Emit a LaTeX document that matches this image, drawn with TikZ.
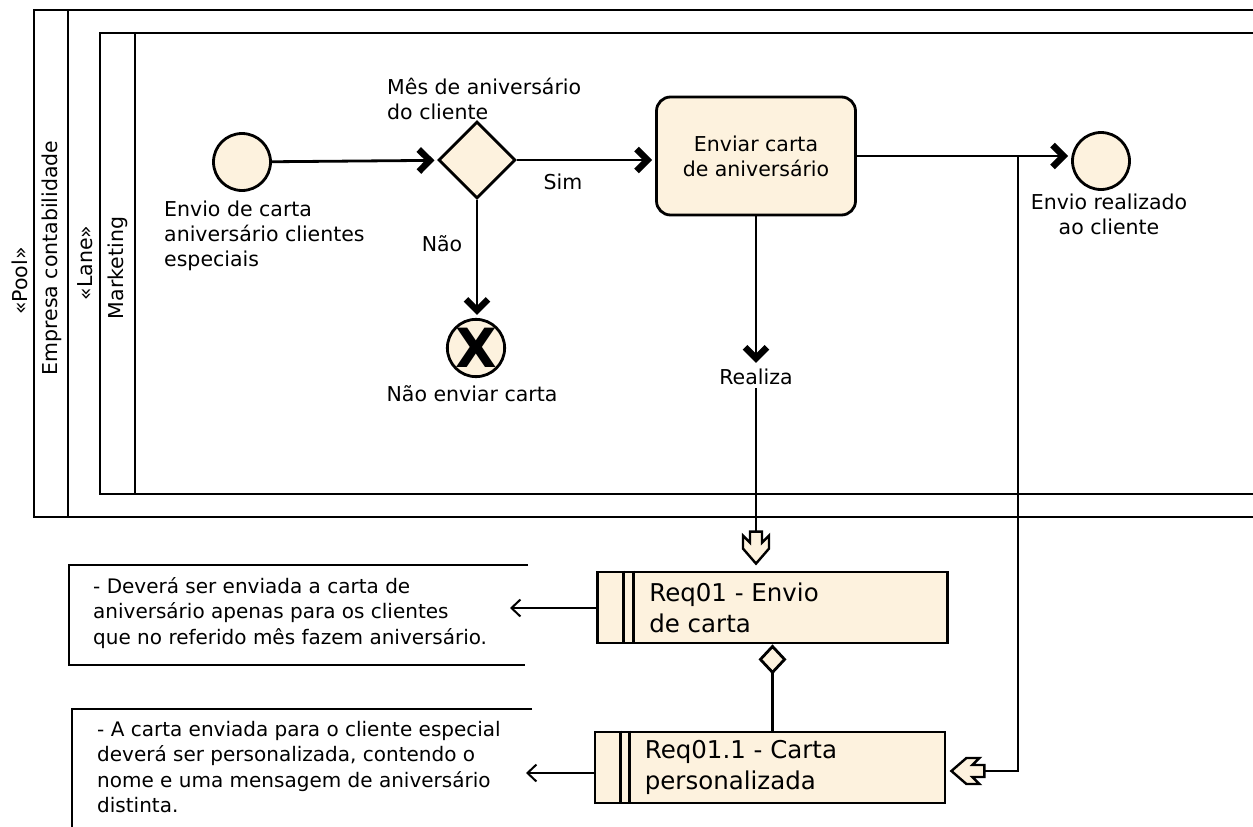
\documentclass[tikz,border=0pt]{standalone}
\usepackage{fontspec}
\setmainfont{DejaVu Sans}
\usetikzlibrary{calc, positioning}
\usetikzlibrary{shapes.geometric, arrows.meta}
\definecolor{bpmnfill}{RGB}{253,242,222}
\tikzset{
  font=\fontsize{20.5}{25}\selectfont,
  % Thin arrowhead to the notes
  thin/.style={-{Straight Barb[length=9pt, width=17pt]},
    line width=2pt},
  % Sequence flow, thick arrowhead
  flow/.style={-{Straight Barb[length=11pt, width=22pt, line width=6.5pt, sharp]},
    line width=2.8pt, shorten >=3pt},
  % Plain line
  plain/.style={line width=2.8pt},
  % Event node
  event/.style={draw, line width=2.8pt, fill=bpmnfill, shape=circle,
    minimum size=57pt, inner sep=0pt},
  % Gateway node
  gate/.style={draw, line width=2.8pt, fill=bpmnfill, shape=diamond,
    minimum size=77pt, inner sep=0pt},
  % Task node
  task/.style={draw, line width=2.8pt, fill=bpmnfill, rounded corners=14pt,
    minimum width=199pt, minimum height=118pt, align=center},
  % Requirement node
  req/.style={draw, line width=2.8pt, fill=bpmnfill, minimum width=350pt,
    minimum height=71pt, inner sep=0pt},
  reqtext/.style={font=\fontsize{24.5}{31}\selectfont, align=left, inner sep=0pt},
  % Labels
  lbl/.style={inner sep=0pt, align=left},
  notetext/.style={font=\fontsize{20}{25.5}\selectfont, inner sep=0pt, align=left},
  % Open arrowheads of the requirement links
  hollow/.style={draw, line width=2.4pt, fill=bpmnfill, line join=miter},
}

\begin{document}
\begin{tikzpicture}[x=1pt, y=-1pt]
  \useasboundingbox (0,0) rectangle (1253,827);

  % pool and lane
  \draw[plain] (1262,10) -- (34,10) -- (34,517) -- (1262,517);
  \draw[plain] (68,10) -- (68,517);
  \draw[plain] (1262,33) -- (100,33) -- (100,494) -- (1262,494);
  \draw[plain] (135,33) -- (135,494);
  \node[rotate=90] (pool) at (20,281) {«Pool»};
  \node[rotate=90] (empresa) at (52,258) {Empresa contabilidade};
  \node[rotate=90] (lane) at (85,263) {«Lane»};
  \node[rotate=90] (mkt) at (118,268) {Marketing};

  % process
  \node[event] (start) at (242,162) {};
  \node[lbl, anchor=north west] (startlbl) at (164,201) {Envio de carta\\aniversário clientes\\especiais};
  \node[gate] (gw) at (477,160) {};
  \node[lbl, anchor=north west] (gwlbl) at (387,78) {Mês de aniversário\\do cliente};
  \node[task] (task) at (756,156) {Enviar carta\\de aniversário};
  \node[event] (fim) at (1101,161) {};
  \node[lbl, align=center, anchor=north] (fimlbl) at (1109,194) {Envio realizado\\ao cliente};
  \node[event, font=\fontsize{54}{54}\selectfont\bfseries] (naoenv) at (476,348) {X};
  \node[lbl, anchor=north] (naolbl) at (472,385) {Não enviar carta};
  \node[lbl] (sim) at (563,182) {Sim};
  \node[lbl] (nao) at (442,244) {Não};
  \node[lbl, inner sep=3pt] (realiza) at (756,377) {Realiza};

  \draw[flow] (start) -- (gw);
  \draw[flow] (gw.east) -- (gw.east -| task.west);
  \draw[flow] (task.east) -- (task.east -| fim.west);
  \draw[flow] (gw.south) -- (gw.south |- naoenv.north);
  \draw[flow] (task.south) -- (realiza.north);

  % requirements
  \node[req] (r1) at (772.5,607.5) {};
  \node[reqtext, right=53pt of r1.west] (r1txt) {Req01 - Envio\\de carta};
  \draw[plain] ([xshift=27pt]r1.north west) -- ([xshift=27pt]r1.south west);
  \draw[plain] ([xshift=37pt]r1.north west) -- ([xshift=37pt]r1.south west);

  \node[req] (r2) at (770,767.5) {};
  \node[reqtext, right=51pt of r2.west] (r2txt) {Req01.1 - Carta\\personalizada};
  \draw[plain] ([xshift=27pt]r2.north west) -- ([xshift=27pt]r2.south west);
  \draw[plain] ([xshift=36pt]r2.north west) -- ([xshift=36pt]r2.south west);

  \draw[plain, {Diamond[open, fill=bpmnfill, length=30pt, width=28pt]}-]
    (r1.south) -- (r1.south |- r2.north);

  % links to the requirements
  \coordinate (tipA) at ($(task.south |- r1.north)+(0,-7)$);
  \draw[plain] (realiza.south) -- (tipA);
  \filldraw[hollow, shift={(tipA)}] (0,0) -- (-13,-15) -- (-13,-28) -- (-6,-21)
    -- (-6,-32) -- (6,-32) -- (6,-21) -- (13,-28) -- (13,-15) -- cycle;

  \coordinate (split) at (1018,0);
  \coordinate (tipB) at ($(r2.east)+(5,3.5)$);
  \draw[plain] (split |- task.east) |- (tipB);
  \filldraw[hollow, shift={(tipB)}] (0,0) -- (15,-13) -- (28,-13) -- (21,-6)
    -- (33,-6) -- (33,6) -- (21,6) -- (28,13) -- (15,13) -- cycle;

  % notes
  \draw[plain] (528,565) -- (69,565) -- (69,665) -- (525,665);
  \node[notetext, anchor=north west] (note1) at (93,577) {- Deverá ser enviada a carta de\\aniversário apenas para os clientes\\que no referido mês fazem aniversário.};
  \coordinate (n1tip) at (510,608);
  \draw[thin] (r1.west |- n1tip) -- (n1tip);

  \draw[plain] (532,709) -- (72,709) -- (72,830);
  \node[notetext, anchor=north west] (note2) at (97,721) {- A carta enviada para o cliente especial\\deverá ser personalizada, contendo o\\nome e uma mensagem de aniversário\\distinta.};
  \coordinate (n2tip) at (526,773);
  \draw[thin] (r2.west |- n2tip) -- (n2tip);
\end{tikzpicture}
\end{document}
